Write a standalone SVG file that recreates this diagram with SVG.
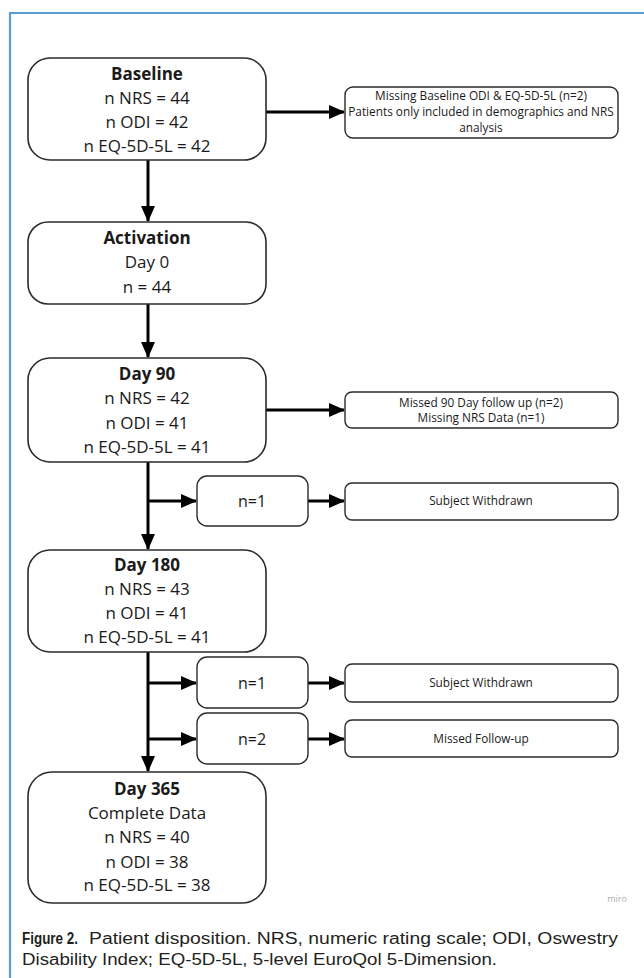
<svg xmlns="http://www.w3.org/2000/svg" width="644" height="978" viewBox="0 0 644 978">
<style>
.big{fill:#fff;stroke:#2b2b2b;stroke-width:1.6}
.sm{fill:#fff;stroke:#2b2b2b;stroke-width:1.4}
.t{font-family:"Open Sans","Noto Sans",sans-serif;font-size:17px;fill:#1a1a1a;text-anchor:middle}
.b{font-weight:bold}
.s{font-family:"Open Sans","Noto Sans",sans-serif;font-size:11.8px;fill:#1a1a1a;text-anchor:middle}
.n{font-family:"Open Sans","Noto Sans",sans-serif;font-size:16px;fill:#1a1a1a;text-anchor:middle}
.c{stroke:#000;stroke-width:3;fill:none}
.cap{font-family:"Liberation Sans",Arial,sans-serif;font-size:16px;fill:#231f20}
</style>
<defs>
<marker id="ah" markerUnits="userSpaceOnUse" markerWidth="16" markerHeight="14" refX="15" refY="7" orient="auto" viewBox="0 0 16 14">
<path d="M0,0 L16,7 L0,14 z" fill="#000"/>
</marker>
</defs>
<rect width="644" height="978" fill="#fff"/>
<g id="frame" stroke="#5b9bd5" stroke-width="2.2" fill="none">
<path d="M10,978 V13 H644"/>
</g>
<g id="connectors">
<line class="c" x1="148" y1="160" x2="148" y2="221" marker-end="url(#ah)"/>
<line class="c" x1="148" y1="304" x2="148" y2="357" marker-end="url(#ah)"/>
<line class="c" x1="148" y1="462" x2="148" y2="549" marker-end="url(#ah)"/>
<line class="c" x1="148" y1="501" x2="196" y2="501" marker-end="url(#ah)"/>
<line class="c" x1="148" y1="652" x2="148" y2="771" marker-end="url(#ah)"/>
<line class="c" x1="148" y1="683" x2="196" y2="683" marker-end="url(#ah)"/>
<line class="c" x1="148" y1="739" x2="196" y2="739" marker-end="url(#ah)"/>
<line class="c" x1="266" y1="112" x2="344" y2="112" marker-end="url(#ah)"/>
<line class="c" x1="266" y1="410" x2="344" y2="410" marker-end="url(#ah)"/>
<line class="c" x1="308" y1="501" x2="344" y2="501" marker-end="url(#ah)"/>
<line class="c" x1="308" y1="683" x2="344" y2="683" marker-end="url(#ah)"/>
<line class="c" x1="308" y1="739" x2="344" y2="739" marker-end="url(#ah)"/>
</g>
<g id="baseline">
<rect class="big" x="28" y="58" width="238" height="102" rx="22"/>
<text class="t b" x="147" y="80">Baseline</text>
<text class="t" x="147" y="104">n NRS = 44</text>
<text class="t" x="147" y="128">n ODI = 42</text>
<text class="t" x="147" y="152">n EQ-5D-5L = 42</text>
</g>
<g id="missing-baseline">
<rect class="sm" x="345" y="87" width="273" height="51" rx="8"/>
<text class="s" x="481" y="100">Missing Baseline ODI &amp; EQ-5D-5L (n=2)</text>
<text class="s" x="481" y="116">Patients only included in demographics and NRS</text>
<text class="s" x="481" y="132">analysis</text>
</g>
<g id="activation">
<rect class="big" x="28" y="222" width="238" height="82" rx="20"/>
<text class="t b" x="147" y="244">Activation</text>
<text class="t" x="147" y="268">Day 0</text>
<text class="t" x="147" y="293">n = 44</text>
</g>
<g id="day90">
<rect class="big" x="28" y="358" width="238" height="104" rx="22"/>
<text class="t b" x="147" y="380">Day 90</text>
<text class="t" x="147" y="404">n NRS = 42</text>
<text class="t" x="147" y="429">n ODI = 41</text>
<text class="t" x="147" y="453">n EQ-5D-5L = 41</text>
</g>
<g id="missed90">
<rect class="sm" x="345" y="392" width="273" height="36" rx="7"/>
<text class="s" x="481" y="407">Missed 90 Day follow up (n=2)</text>
<text class="s" x="481" y="422">Missing NRS Data (n=1)</text>
</g>
<g id="n1a">
<rect class="sm" x="197" y="476" width="111" height="50" rx="10"/>
<text class="n" x="252" y="507">n=1</text>
</g>
<g id="withdrawn1">
<rect class="sm" x="345" y="483" width="273" height="37" rx="7"/>
<text class="s" x="481" y="505">Subject Withdrawn</text>
</g>
<g id="day180">
<rect class="big" x="28" y="550" width="238" height="102" rx="22"/>
<text class="t b" x="147" y="571">Day 180</text>
<text class="t" x="147" y="595">n NRS = 43</text>
<text class="t" x="147" y="619">n ODI = 41</text>
<text class="t" x="147" y="643">n EQ-5D-5L = 41</text>
</g>
<g id="n1b">
<rect class="sm" x="197" y="657" width="111" height="51" rx="10"/>
<text class="n" x="252" y="689">n=1</text>
</g>
<g id="withdrawn2">
<rect class="sm" x="345" y="664" width="273" height="38" rx="7"/>
<text class="s" x="481" y="687">Subject Withdrawn</text>
</g>
<g id="n2">
<rect class="sm" x="197" y="713" width="111" height="51" rx="10"/>
<text class="n" x="252" y="745">n=2</text>
</g>
<g id="missedfu">
<rect class="sm" x="345" y="720" width="273" height="37" rx="7"/>
<text class="s" x="481" y="743">Missed Follow-up</text>
</g>
<g id="day365">
<rect class="big" x="28" y="772" width="238" height="131" rx="24"/>
<text class="t b" x="147" y="795">Day 365</text>
<text class="t" x="147" y="819">Complete Data</text>
<text class="t" x="147" y="843">n NRS = 40</text>
<text class="t" x="147" y="868">n ODI = 38</text>
<text class="t" x="147" y="891">n EQ-5D-5L = 38</text>
</g>
<text x="617" y="902" font-family="'Open Sans',sans-serif" font-size="9" fill="#b0b0b0" text-anchor="middle">miro</text>
<g id="caption">
<text class="cap" x="22" y="944" font-size="15" font-weight="bold" textLength="56" lengthAdjust="spacingAndGlyphs">Figure 2.</text>
<text class="cap" x="89" y="944" textLength="529" lengthAdjust="spacingAndGlyphs">Patient disposition. NRS, numeric rating scale; ODI, Oswestry</text>
<text class="cap" x="22" y="965" textLength="475" lengthAdjust="spacingAndGlyphs">Disability Index; EQ-5D-5L, 5-level EuroQol 5-Dimension.</text>
</g>
</svg>
